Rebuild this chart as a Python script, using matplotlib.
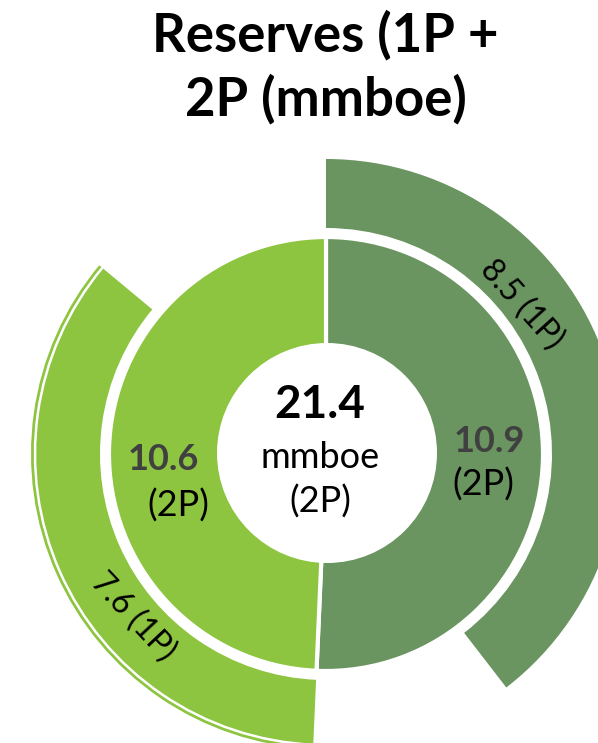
'''
Reserves (1P + 2P) - двойной кольцевой график
'''
import matplotlib
matplotlib.use('Agg')
import matplotlib.pyplot as plt
from matplotlib.patches import Circle, Arc

plt.rcParams['font.family'] = ['Lato', 'DejaVu Sans']

# данные
sides = ['right', 'left']
reserves_2p = [10.9, 10.6]
reserves_1p = [8.5, 7.6]
total_2p = 21.4
labels_2p = ['10.9', '10.6']
labels_1p = ['8.5 (1P)', '7.6 (1P)']
title_lines = ['Reserves (1P +', '2P (mmboe)']

dark = '#6A9460'
light = '#8DC440'
gray = '#404040'

W, H = 598, 743


def py(y):
    '''пиксель сверху -> координата оси'''
    return H - y


fig = plt.figure(figsize=(W / 100, H / 100), dpi=100)
ax = fig.add_axes([0, 0, 1, 1])

center = (326, py(454))

# внутреннее кольцо (2P)
ax.pie(reserves_2p, colors=[dark, light], startangle=90, counterclock=False,
       radius=217, center=center,
       wedgeprops=dict(edgecolor='white', linewidth=3))
ax.add_patch(Circle((327, py(453)), 110, facecolor='white', edgecolor='none', zorder=3))

# внешнее кольцо (1P) - доля от соответствующей половины
outer_vals = []
outer_cols = []
for i in range(len(sides)):
    outer_vals += [reserves_1p[i], reserves_2p[i] - reserves_1p[i]]
    outer_cols += [[dark, light][i], 'none']
wedges, _ = ax.pie(outer_vals, colors=outer_cols, startangle=90, counterclock=False,
                   radius=295, center=center,
                   wedgeprops=dict(width=69, edgecolor='none'))

# тонкая белая линия по краю светлой дуги
w = wedges[2]
ax.add_patch(Arc(center, 2 * 291, 2 * 291, theta1=w.theta1, theta2=w.theta2,
                 color='white', linewidth=1.8, zorder=4))

ax.set_xlim(0, W)
ax.set_ylim(0, H)
ax.set_aspect('equal')
ax.axis('off')

# подписи
ax.text(320, py(405), f'{total_2p}', ha='center', va='center',
        fontsize=33, fontweight='bold', color='black', zorder=5)
ax.text(320, py(457), 'mmboe', ha='center', va='center', fontsize=26, zorder=5)
ax.text(320, py(502), '(2P)', ha='center', va='center', fontsize=26, zorder=5)

ax.text(489, py(442), labels_2p[0], ha='center', va='center',
        fontsize=26, fontweight='bold', color=gray, zorder=5)
ax.text(483, py(485), '(2P)', ha='center', va='center', fontsize=26, zorder=5)
ax.text(163, py(459), labels_2p[1], ha='center', va='center',
        fontsize=26, fontweight='bold', color=gray, zorder=5)
ax.text(178, py(506), '(2P)', ha='center', va='center', fontsize=26, zorder=5)

ax.text(522, py(305), labels_1p[0], ha='center', va='center',
        fontsize=23, rotation=-48, rotation_mode='anchor', zorder=5)
ax.text(133, py(617), labels_1p[1], ha='center', va='center',
        fontsize=23, rotation=-47, rotation_mode='anchor', zorder=5)

# заголовок
ax.text(325, py(51), title_lines[0], ha='center', va='baseline',
        fontsize=38, fontweight='bold')
ax.text(326, py(116), title_lines[1], ha='center', va='baseline',
        fontsize=38, fontweight='bold')

fig.savefig('out.png', dpi=100)
